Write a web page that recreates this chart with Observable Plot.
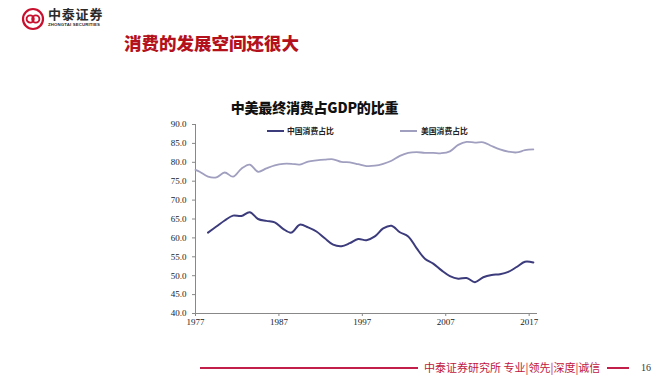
<!DOCTYPE html>
<html><head><meta charset="utf-8">
<script src="https://cdn.jsdelivr.net/npm/d3@7"></script>
<script src="https://cdn.jsdelivr.net/npm/@observablehq/plot@0.6"></script>
<style>
html,body{margin:0;padding:0;background:#fff;}
body{width:663px;height:384px;overflow:hidden;position:relative;font-family:"Noto Sans CJK SC","Noto Sans",sans-serif;}
.abs{position:absolute;white-space:nowrap;line-height:1;}
#chart{position:absolute;left:0;top:0;}
</style></head><body>
<div id="chart"></div>

<svg class="abs" style="left:20px;top:6px" width="26" height="26" viewBox="0 0 26 26">
  <circle cx="13" cy="13" r="10" fill="none" stroke="#c8102e" stroke-width="2.2"/>
  <circle cx="10.2" cy="13" r="3.6" fill="none" stroke="#c8102e" stroke-width="1.9"/>
  <circle cx="15.8" cy="13" r="3.6" fill="none" stroke="#c8102e" stroke-width="1.9"/>
</svg>
<div class="abs" style="left:48px;top:7px;font-size:13px;font-weight:700;color:#2a2a2a;letter-spacing:0.8px">中泰证券</div>
<div class="abs" style="left:48px;top:22.5px;font-size:4.3px;font-weight:700;color:#2a2a2a;font-family:'Liberation Sans',sans-serif;letter-spacing:0.15px">ZHONGTAI SECURITIES</div>
<div class="abs" style="left:124px;top:34px;font-size:17.5px;font-weight:900;color:#b3121c">消费的发展空间还很大</div>

<div class="abs" style="left:314.5px;top:100px;transform:translateX(-50%);font-size:14px;letter-spacing:-0.2px;font-weight:900;color:#111">中美最终消费占GDP的比重</div>

<div class="abs" style="left:267px;top:130px;width:17px;height:2px;background:#3c3b7c"></div>
<div class="abs" style="left:287px;top:127px;font-size:7.8px;font-weight:700;color:#222">中国消费占比</div>
<div class="abs" style="left:400px;top:130px;width:17px;height:2px;background:#a09fbf"></div>
<div class="abs" style="left:421px;top:127px;font-size:7.8px;font-weight:700;color:#222">美国消费占比</div>

<div class="abs" style="left:200px;top:367px;width:218px;height:2px;background:#c21f4a"></div>
<div class="abs" style="left:424px;top:362px;font-size:11px;color:#c0163e">中泰证券研究所 专业|领先|深度|诚信</div>
<div class="abs" style="left:607px;top:367px;width:22px;height:2px;background:#c21f4a"></div>
<div class="abs" style="left:641px;top:363px;font-size:10px;color:#333;font-family:'Liberation Serif',serif">16</div>

<script>
// x positions (years, as placed on the chart's category axis)
const chinaYears = d3.range(1978.5, 2018);
const chinaValues = [61.4, 63.0, 64.6, 65.9, 65.8, 66.8, 65.0, 64.5, 64.1, 62.4,
  61.4, 63.5, 62.8, 61.7, 59.9, 58.2, 57.8, 58.6, 59.7, 59.4,
  60.4, 62.5, 63.2, 61.5, 60.4, 57.3, 54.5, 53.2, 51.4, 49.9,
  49.2, 49.4, 48.3, 49.6, 50.2, 50.4, 51.0, 52.3, 53.7, 53.5];
const usYears = [1977, ...d3.range(1977.5, 2018)];
const usValues = [78.0, 77.5, 76.2, 76.0, 77.3, 76.2, 78.3, 79.4, 77.5, 78.4,
  79.2, 79.6, 79.6, 79.4, 80.2, 80.5, 80.7, 80.8, 80.1, 80.0,
  79.5, 79.0, 79.1, 79.6, 80.4, 81.7, 82.5, 82.7, 82.5, 82.5,
  82.4, 82.9, 84.6, 85.4, 85.2, 85.3, 84.3, 83.4, 82.8, 82.6,
  83.2, 83.4];
const xTicks = [1977, 1987, 1997, 2007, 2017];
const yTicks = [40, 45, 50, 55, 60, 65, 70, 75, 80, 85, 90];
const seriesNames = ["中国消费占比", "美国消费占比"];
const seriesColors = ["#3c3b7c", "#a09fbf"];

const china = chinaYears.map((x, i) => ({x, v: chinaValues[i], s: seriesNames[0]}));
const us = usYears.map((x, i) => ({x, v: usValues[i], s: seriesNames[1]}));

const chart = Plot.plot({
  width: 663, height: 384,
  marginLeft: 195, marginRight: 126, marginTop: 124, marginBottom: 71,
  style: {fontFamily: "'Liberation Serif', serif", fontSize: "9px", color: "#222", background: "transparent"},
  x: {domain: [1977, 2018], label: null},
  y: {domain: [40, 90], label: null},
  marks: [
    Plot.axisX({ticks: xTicks, tickFormat: d => String(d), tickSize: 3, tickPadding: 2, label: null, stroke: "#888"}),
    Plot.axisY({ticks: yTicks, tickFormat: d => d.toFixed(1), tickSize: 3, tickPadding: 6, label: null, stroke: "#888"}),
    Plot.ruleX([1977], {stroke: "#888"}),
    Plot.ruleY([40], {stroke: "#888"}),
    Plot.line(us, {x: "x", y: "v", stroke: seriesColors[1], strokeWidth: 1.8, curve: "catmull-rom"}),
    Plot.line(china, {x: "x", y: "v", stroke: seriesColors[0], strokeWidth: 2, curve: "catmull-rom"})
  ]
});
document.getElementById("chart").appendChild(chart);
</script>
</body></html>
